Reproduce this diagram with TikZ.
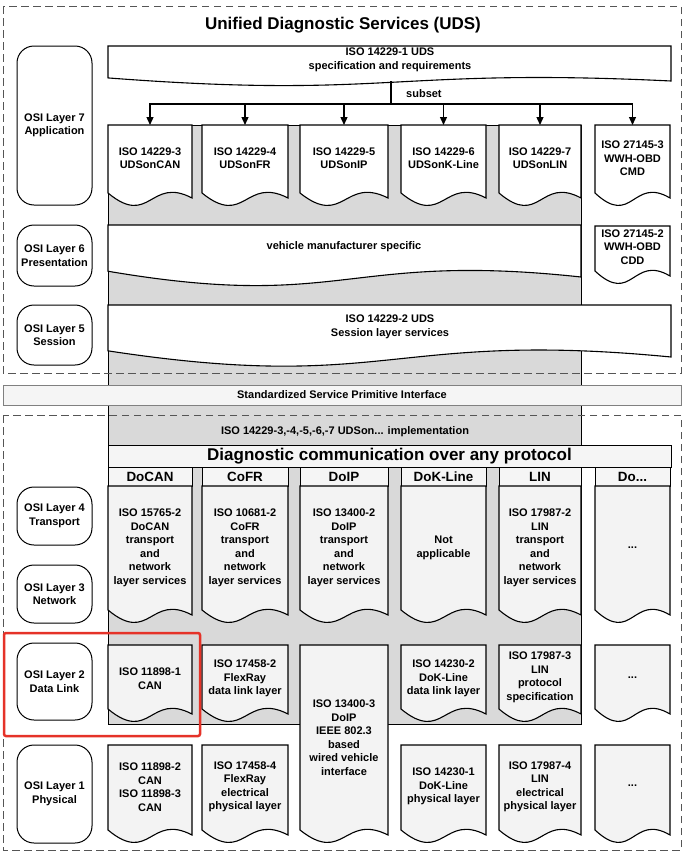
\documentclass[tikz,border=0pt]{standalone}
\usepackage{fontspec}
\setmainfont{Liberation Sans}
\usetikzlibrary{arrows.meta}
\definecolor{panelgray}{HTML}{D9D9D9}
\definecolor{docgray}{HTML}{F3F3F3}
\definecolor{barfill}{HTML}{F5F5F5}
\definecolor{dashgray}{HTML}{555555}
\definecolor{bargray}{HTML}{808080}
\definecolor{redmark}{HTML}{E53228}
\newcommand\udsdoc[6][white]{\draw[docline,fill=#1] (#2,#3) -- (#4,#3) -- (#4,#5) .. controls ({(#2+#4)/2},{#5-3.4*#6}) and ({(#2+#4)/2},{#5+4.6*#6}) .. (#2,{#5-0.77*#6}) -- cycle;}
\begin{document}
\begin{tikzpicture}[x=1pt,y=-1pt,
  every node/.style={font=\bfseries\fontsize{11}{13.5}\selectfont, align=center, inner sep=0pt},
  docline/.style={draw=black, line width=1.1pt},
  osibox/.style={draw=black, line width=1pt, fill=white, rounded corners=17pt, minimum width=75pt},
  dashbox/.style={draw=dashgray, line width=0.8pt, dash pattern=on 7.5pt off 4.5pt},
  hdrcell/.style={draw=black, line width=1pt, fill=barfill, font=\bfseries\fontsize{13.4}{15}\selectfont},
  bigtext/.style={font=\bfseries\fontsize{17}{20}\selectfont},
  arr/.style={line width=1.3pt, -{Triangle[length=8pt,width=7pt]}},
  plain/.style={line width=1.3pt}
]
\useasboundingbox (0,0) rectangle (686,854);

% gray panel
\draw[fill=panelgray, line width=1pt] (108,125) rectangle (581,724);

% dashed frames
\draw[dashbox] (3,6) rectangle (681,373);
\draw[dashbox] (3,415) rectangle (681,850);

% standardized bar
\node[draw=bargray, fill=barfill, line width=0.8pt, minimum width=678pt, minimum height=20pt] (spi) at (342,395) {Standardized Service Primitive Interface};

% title
\node[bigtext] (title) at (343,25) {Unified Diagnostic Services (UDS)};

% OSI layers
\node[osibox, minimum height=159pt] (l7) at (54.5,125.5) {OSI Layer 7\\Application};
\node[osibox, minimum height=61pt] (l6) at (54.5,255.5) {OSI Layer 6\\Presentation};
\node[osibox, minimum height=60pt] (l5) at (54.5,335) {OSI Layer 5\\Session};
\node[osibox, minimum height=58pt] (l4) at (54.5,516) {OSI Layer 4\\Transport};
\node[osibox, minimum height=58pt] (l3) at (54.5,594) {OSI Layer 3\\Network};
\node[osibox, minimum height=77pt] (l2) at (54.5,681.5) {OSI Layer 2\\Data Link};
\node[osibox, minimum height=98pt] (l1) at (54.5,794) {OSI Layer 1\\Physical};

% ISO 14229-1
\udsdoc{108}{46}{671}{81}{4}
\node (spec) at (390,60) {ISO 14229-1 UDS\\specification and requirements};

% subset arrows
\coordinate (hubtop) at (391,81);
\coordinate (hub) at (391,104);
\coordinate (a1) at (150,125);
\coordinate (a2) at (245,125);
\coordinate (a3) at (344,125);
\coordinate (a4) at (443.5,125);
\coordinate (a5) at (540,125);
\coordinate (a6) at (632.5,125);
\draw[plain] (hubtop) -- (hub);
\draw[arr] (hub) -| (a1);
\draw[arr] (hub) -| (a2);
\draw[arr] (hub) -| (a3);
\draw[arr] (hub) -| (a4);
\draw[arr] (hub) -| (a5);
\draw[arr] (hub) -| (a6);
\node[anchor=west] (subset) at (406,94) {subset};

% layer 7 docs
\udsdoc{108}{125}{192}{198}{6.5}
\udsdoc{202}{125}{288}{198}{6.5}
\udsdoc{300}{125}{388}{198}{6.5}
\udsdoc{401}{125}{486}{198}{6.5}
\udsdoc{499}{125}{581}{198}{6.5}
\udsdoc{595}{125}{670}{198}{6.5}
\node (u1) at (150,158) {ISO 14229-3\\UDSonCAN};
\node (u2) at (245,158) {ISO 14229-4\\UDSonFR};
\node (u3) at (344,158) {ISO 14229-5\\UDSonIP};
\node (u4) at (443.5,158) {ISO 14229-6\\UDSonK-Line};
\node (u5) at (540,158) {ISO 14229-7\\UDSonLIN};
\node (u6) at (632.5,158.5) {ISO 27145-3\\WWH-OBD\\CMD};

% layer 6
\udsdoc{108}{225}{581}{277}{7.5}
\node (vms) at (344,247) {vehicle manufacturer specific};
\udsdoc{595}{226}{670}{276}{6.5}
\node (cdd) at (632.5,247) {ISO 27145-2\\WWH-OBD\\CDD};

% layer 5
\udsdoc{108}{305}{671}{357}{8}
\node (sess) at (390,327) {ISO 14229-2 UDS\\Session layer services};

% implementation
\node (impl) at (345,432) {ISO 14229-3,-4,-5,-6,-7 UDSon... implementation};
\node[draw=black, line width=1pt, fill=barfill, minimum width=563pt, minimum height=22pt, bigtext] (diag) at (389.5,456) {Diagnostic communication over any protocol};

% headers
\node[hdrcell, minimum width=84pt, minimum height=19pt] (h1) at (150,476.5) {DoCAN};
\node[hdrcell, minimum width=86pt, minimum height=19pt] (h2) at (245,476.5) {CoFR};
\node[hdrcell, minimum width=88pt, minimum height=19pt] (h3) at (344,476.5) {DoIP};
\node[hdrcell, minimum width=85pt, minimum height=19pt] (h4) at (443.5,476.5) {DoK-Line};
\node[hdrcell, minimum width=82pt, minimum height=19pt] (h5) at (540,476.5) {LIN};
\node[hdrcell, minimum width=75pt, minimum height=19pt] (h6) at (632.5,476.5) {Do...};

% layer 4/3 docs
\udsdoc[docgray]{108}{486}{192}{615}{6.5}
\udsdoc[docgray]{202}{486}{288}{615}{6.5}
\udsdoc[docgray]{300}{486}{388}{615}{6.5}
\udsdoc[docgray]{401}{486}{486}{615}{6.5}
\udsdoc[docgray]{499}{486}{581}{615}{6.5}
\udsdoc[docgray]{595}{486}{670}{615}{6.5}
\node (n1) at (150,548) {ISO 15765-2\\DoCAN\\transport\\and\\network\\layer services};
\node (n2) at (245,548) {ISO 10681-2\\CoFR\\transport\\and\\network\\layer services};
\node (n3) at (344,548) {ISO 13400-2\\DoIP\\transport\\and\\network\\layer services};
\node (n4) at (443.5,548) {Not\\applicable};
\node (n5) at (540,548) {ISO 17987-2\\LIN\\transport\\and\\network\\layer services};
\node (n6) at (632.5,548) {...};

% layer 2 docs
\udsdoc[docgray]{108}{645}{192}{714}{6.5}
\udsdoc[docgray]{202}{645}{288}{714}{6.5}
\udsdoc[docgray]{401}{645}{486}{714}{6.5}
\udsdoc[docgray]{499}{645}{581}{714}{6.5}
\udsdoc[docgray]{595}{645}{670}{714}{6.5}
\node (d1) at (150,678.5) {ISO 11898-1\\CAN};
\node (d2) at (245,678.5) {ISO 17458-2\\FlexRay\\data link layer};
\node (d4) at (443.5,678.5) {ISO 14230-2\\DoK-Line\\data link layer};
\node (d5) at (540,677.5) {ISO 17987-3\\LIN\\protocol\\specification};
\node (d6) at (632.5,678) {...};

% DoIP tall doc
\udsdoc[docgray]{300}{645}{388}{835}{6.5}
\node (d3) at (344,737.5) {ISO 13400-3\\DoIP\\IEEE 802.3\\based\\wired vehicle\\interface};

% layer 1 docs
\udsdoc[docgray]{108}{745}{192}{835}{6.5}
\udsdoc[docgray]{202}{745}{288}{835}{6.5}
\udsdoc[docgray]{401}{745}{486}{835}{6.5}
\udsdoc[docgray]{499}{745}{581}{835}{6.5}
\udsdoc[docgray]{595}{745}{670}{835}{6.5}
\node (p1) at (150,787) {ISO 11898-2\\CAN\\ISO 11898-3\\CAN};
\node (p2) at (245,787) {ISO 17458-4\\FlexRay\\electrical\\physical layer};
\node (p4) at (443.5,786.5) {ISO 14230-1\\DoK-Line\\physical layer};
\node (p5) at (540,787) {ISO 17987-4\\LIN\\electrical\\physical layer};
\node (p6) at (632.5,786) {...};

% red highlight
\draw[draw=redmark, line width=2.5pt, rounded corners=2pt] (4,633) rectangle (200,736);
\end{tikzpicture}
\end{document}
